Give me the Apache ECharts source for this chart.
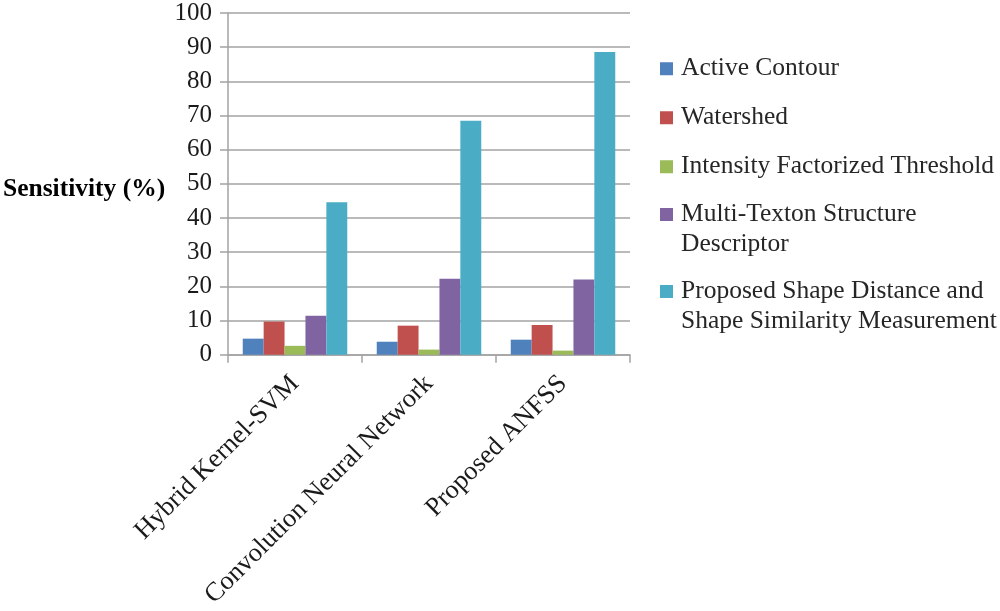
<!DOCTYPE html>
<html>
<head>
<meta charset="utf-8">
<script src="https://cdn.jsdelivr.net/npm/echarts@6/dist/echarts.min.js"></script>
<style>html,body{margin:0;padding:0;background:#fff}#c{width:1000px;height:611px}</style>
</head>
<body>
<div id="c"></div>
<script>
const categories = ['Hybrid Kernel-SVM', 'Convolution Neural Network', 'Proposed ANFSS'];
const seriesNames = ['Active Contour', 'Watershed', 'Intensity Factorized Threshold', 'Multi-Texton Structure\nDescriptor', 'Proposed Shape Distance and\nShape Similarity Measurement'];
const activeContour = [4.7, 3.8, 4.4];
const watershed = [9.7, 8.5, 8.7];
const intensityFactorized = [2.6, 1.5, 1.2];
const multiTexton = [11.4, 22.2, 22.0];
const proposedShape = [44.6, 68.5, 88.6];
const yTicks = [0, 10, 20, 30, 40, 50, 60, 70, 80, 90, 100];
const colors = ['#4F81BD', '#C0504D', '#9BBB59', '#8064A2', '#4BACC6'];
const values = [activeContour, watershed, intensityFactorized, multiTexton, proposedShape];

const serif = 'Liberation Serif';
const gridColor = '#a3a3a3';
const tallIcon = 'path://M0,0L13,0L13,13L0,13Z M0,43L0.01,43L0.01,43.01Z';
const legendTops = [49, 98, 147, 195, 272];

const legends = seriesNames.map((n, i) => ({
  data: [n],
  orient: 'vertical',
  left: 655,
  top: legendTops[i],
  itemWidth: 13,
  itemHeight: i >= 3 ? 43 : 13,
  icon: i >= 3 ? tallIcon : 'rect',
  itemGap: 0,
  textStyle: { fontFamily: serif, fontSize: 25.5, color: '#262626', lineHeight: 29.5, padding: [0, 0, 0, 3] },
  selectedMode: false
}));

const chart = echarts.init(document.getElementById('c'));
chart.setOption({
  animation: false,
  color: colors,
  title: {
    text: 'Sensitivity (%)',
    left: -2,
    top: 171,
    textStyle: { fontFamily: serif, fontSize: 25.5, fontWeight: 'bold', color: '#000' }
  },
  legend: legends,
  grid: { left: 228, right: 370, top: 13, bottom: 255, containLabel: false },
  xAxis: {
    type: 'category',
    data: categories,
    axisLine: { show: true, lineStyle: { color: gridColor, width: 1.5 } },
    axisTick: { show: true, length: 8, lineStyle: { color: gridColor, width: 1.5 } },
    axisLabel: { rotate: 45, margin: 25, fontFamily: serif, fontSize: 26.5, color: '#1a1a1a', interval: 0 }
  },
  yAxis: {
    type: 'value',
    min: 0,
    max: 100,
    interval: 10,
    axisLine: { show: true, lineStyle: { color: gridColor, width: 1.5 } },
    axisTick: { show: true, length: 8, lineStyle: { color: gridColor, width: 1.5 } },
    splitLine: { show: true, lineStyle: { color: gridColor, width: 1.5 } },
    axisLabel: {
      margin: 16, fontFamily: serif, fontSize: 25, color: '#1a1a1a',
      formatter: v => yTicks.includes(v) ? String(v) : ''
    }
  },
  series: seriesNames.map((n, i) => ({
    name: n,
    type: 'bar',
    data: values[i],
    barGap: '0%',
    barCategoryGap: '22%',
    itemStyle: { color: colors[i] }
  }))
});
</script>
</body>
</html>
